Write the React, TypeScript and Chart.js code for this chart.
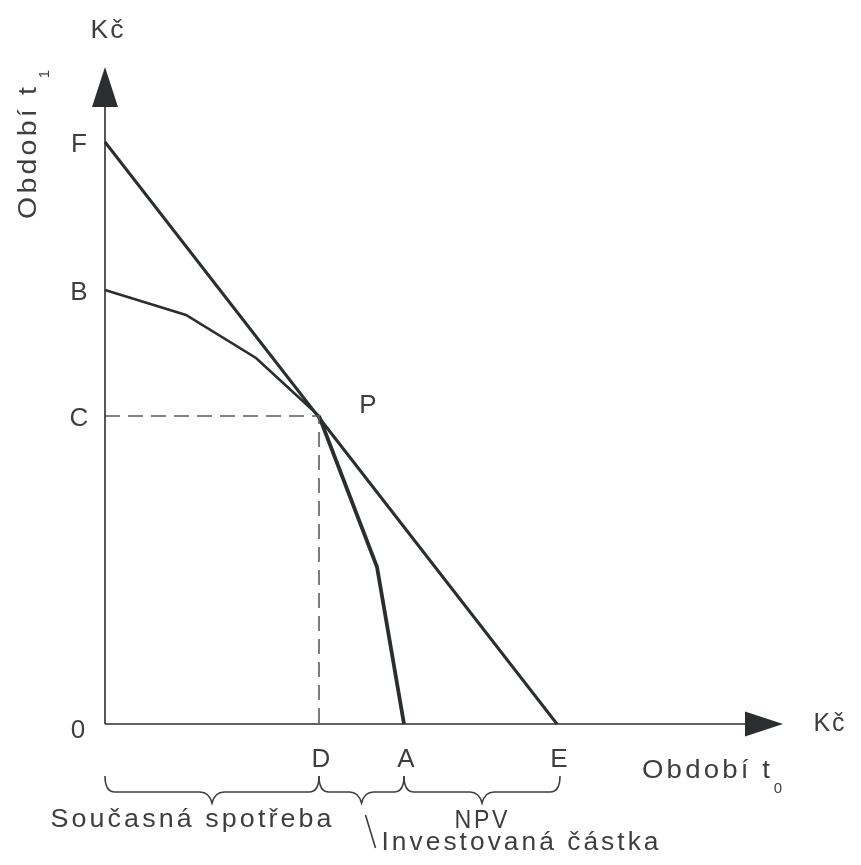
import React, { useEffect, useRef } from 'react';
import { Chart, registerables } from 'chart.js';

Chart.register(...registerables);

// ---- data ----
const yTickNames = ['F', 'B', 'C'];
const yTickValues = [58.2, 43.4, 30.8];
const xTickNames = ['D', 'A', 'E'];
const xTickValues = [21.4, 29.9, 45.2];
const curveX = [0, 8.1, 15.1, 21.4, 27.2, 29.9];
const curveY = [43.4, 40.9, 36.6, 30.8, 15.7, 0];
const axisLimits = [67.8, 65.7]; // x arrow tip, y arrow tip
const braceLabels = ['Současná spotřeba', 'Investovaná částka', 'NPV'];
const axisTitles = ['Období t', 'Období t'];
const axisSubs = ['0', '1'];
const unitLabel = 'Kč';
const originLabel = '0';
const pointLabel = 'P';

const LINE = '#2a2e2e';
const TEXT = '#3d3f3f';
const FONT = '"Liberation Sans", Arial, sans-serif';

function drawText(
  ctx: CanvasRenderingContext2D,
  text: string,
  cx: number,
  cy: number,
  size: number,
  targetW?: number,
  spacing = 0
) {
  ctx.save();
  ctx.font = `${size}px ${FONT}`;
  (ctx as any).letterSpacing = `${spacing}px`;
  ctx.fillStyle = TEXT;
  ctx.textAlign = 'left';
  ctx.textBaseline = 'alphabetic';
  const w = ctx.measureText(text).width - spacing;
  const sx = targetW ? targetW / w : 1;
  const capH = size * 0.72;
  ctx.translate(cx, cy + capH / 2);
  ctx.scale(sx, 1);
  ctx.fillText(text, -w / 2, 0);
  ctx.restore();
}

function brace(
  ctx: CanvasRenderingContext2D,
  x1: number,
  x2: number,
  yTop: number,
  yMid: number,
  yTip: number
) {
  const r = 10;
  const tip = (x1 + x2) / 2;
  ctx.beginPath();
  ctx.moveTo(x1, yTop);
  ctx.quadraticCurveTo(x1, yMid, x1 + r, yMid);
  ctx.lineTo(tip - 12, yMid);
  ctx.quadraticCurveTo(tip - 3, yMid, tip, yTip);
  ctx.quadraticCurveTo(tip + 3, yMid, tip + 12, yMid);
  ctx.lineTo(x2 - r, yMid);
  ctx.quadraticCurveTo(x2, yMid, x2, yTop);
  ctx.stroke();
}

const decorPlugin = {
  id: 'decor',
  afterDatasetsDraw(chart: any) {
    const ctx: CanvasRenderingContext2D = chart.ctx;
    const xs = chart.scales.x;
    const ys = chart.scales.y;
    const px = (v: number) => xs.getPixelForValue(v);
    const py = (v: number) => ys.getPixelForValue(v);
    const ox = px(0);
    const oy = py(0);

    // arrows
    ctx.save();
    ctx.fillStyle = LINE;
    const ty = py(axisLimits[1]);
    ctx.beginPath();
    ctx.moveTo(ox, ty);
    ctx.lineTo(ox - 13, ty + 40);
    ctx.lineTo(ox + 13, ty + 40);
    ctx.closePath();
    ctx.fill();
    const tx = px(axisLimits[0]);
    ctx.beginPath();
    ctx.moveTo(tx, oy);
    ctx.lineTo(tx - 38, oy - 12.5);
    ctx.lineTo(tx - 38, oy + 12.5);
    ctx.closePath();
    ctx.fill();
    ctx.restore();

    // axis letters
    yTickNames.forEach((n, i) => drawText(ctx, n, ox - 26, py(yTickValues[i]) + 1, 26));
    xTickNames.forEach((n, i) => drawText(ctx, n, px(xTickValues[i]) + 2, oy + 34, 26));
    drawText(ctx, originLabel, ox - 27, oy + 5, 26);
    drawText(ctx, pointLabel, px(xTickValues[0]) + 49, py(yTickValues[2]) - 12, 26);

    // units
    drawText(ctx, unitLabel, ox + 2, 21, 26, 33, 2);
    drawText(ctx, unitLabel, tx + 46, oy - 2, 26, 31, 2);

    // x axis title
    drawText(ctx, axisTitles[0], 698, oy + 45, 26, 128, 3);
    drawText(ctx, axisSubs[0], 770, oy + 64, 15);

    // y axis title (rotated)
    ctx.save();
    ctx.translate(19, 145);
    ctx.rotate(-Math.PI / 2);
    drawText(ctx, axisTitles[1], 0, 0, 26, 132, 3);
    drawText(ctx, axisSubs[1], 79, 17, 15);
    ctx.restore();

    // braces
    ctx.save();
    ctx.strokeStyle = TEXT;
    ctx.lineWidth = 1.6;
    const yTop = oy + 52;
    const yMid = oy + 68;
    const yTip = oy + 79;
    const b0 = ox;
    const b1 = px(xTickValues[0]);
    const b2 = px(xTickValues[1]);
    const b3 = px(xTickValues[2]) + 3;
    brace(ctx, b0, b1, yTop, yMid, yTip);
    brace(ctx, b1, b2, yTop, yMid, yTip);
    brace(ctx, b2, b3, yTop, yMid, yTip);
    const t2 = (b1 + b2) / 2;
    ctx.beginPath();
    ctx.moveTo(t2 + 4, yTip + 12);
    ctx.lineTo(t2 + 14, yTip + 45);
    ctx.stroke();
    ctx.restore();

    drawText(ctx, braceLabels[0], (b0 + b1) / 2 - 21, oy + 94, 26, 281, 3);
    drawText(ctx, braceLabels[2], (b2 + b3) / 2 - 1, oy + 95, 26, 53, 3);
    drawText(ctx, braceLabels[1], t2 + 20 + 277 / 2, oy + 117, 26, 277, 3);
  },
};

export default function App() {
  const ref = useRef<HTMLCanvasElement>(null);
  useEffect(() => {
    if (!ref.current) return;
    const pts = (xa: number[], ya: number[]) => xa.map((x, i) => ({ x, y: ya[i] }));
    const upper = pts(curveX.slice(0, 4), curveY.slice(0, 4));
    const lower = pts(curveX.slice(3), curveY.slice(3));
    const common = { showLine: true, pointRadius: 0, fill: false, tension: 0 };
    const chart = new Chart(ref.current, {
      type: 'scatter',
      data: {
        datasets: [
          {
            ...common,
            data: [{ x: 0, y: 0 }, { x: 0, y: axisLimits[1] - 3 }],
            borderColor: LINE,
            borderWidth: 1.6,
          },
          {
            ...common,
            data: [{ x: 0, y: 0 }, { x: axisLimits[0] - 3, y: 0 }],
            borderColor: LINE,
            borderWidth: 1.6,
          },
          {
            ...common,
            data: [
              { x: 0, y: yTickValues[2] },
              { x: xTickValues[0], y: yTickValues[2] },
              { x: xTickValues[0], y: 0 },
            ],
            borderColor: '#5a5c5c',
            borderWidth: 1.6,
            borderDash: [15, 8],
          },
          {
            ...common,
            data: [{ x: 0, y: yTickValues[0] }, { x: xTickValues[2], y: 0 }],
            borderColor: LINE,
            borderWidth: 3,
          },
          { ...common, data: upper, borderColor: LINE, borderWidth: 2.6 },
          { ...common, data: lower, borderColor: LINE, borderWidth: 3.8 },
        ],
      } as any,
      options: {
        animation: false,
        responsive: false,
        layout: { padding: 0 },
        plugins: { legend: { display: false }, tooltip: { enabled: false } },
        scales: {
          x: { type: 'linear', display: false, min: -9.7, max: 74.8 },
          y: { type: 'linear', display: false, min: -13.3, max: 71.6 },
        },
      },
      plugins: [decorPlugin],
    });
    return () => chart.destroy();
  }, []);
  return (
    <canvas
      ref={ref}
      width={845}
      height={849}
      style={{ display: 'block', width: 845, height: 849 }}
    />
  );
}
